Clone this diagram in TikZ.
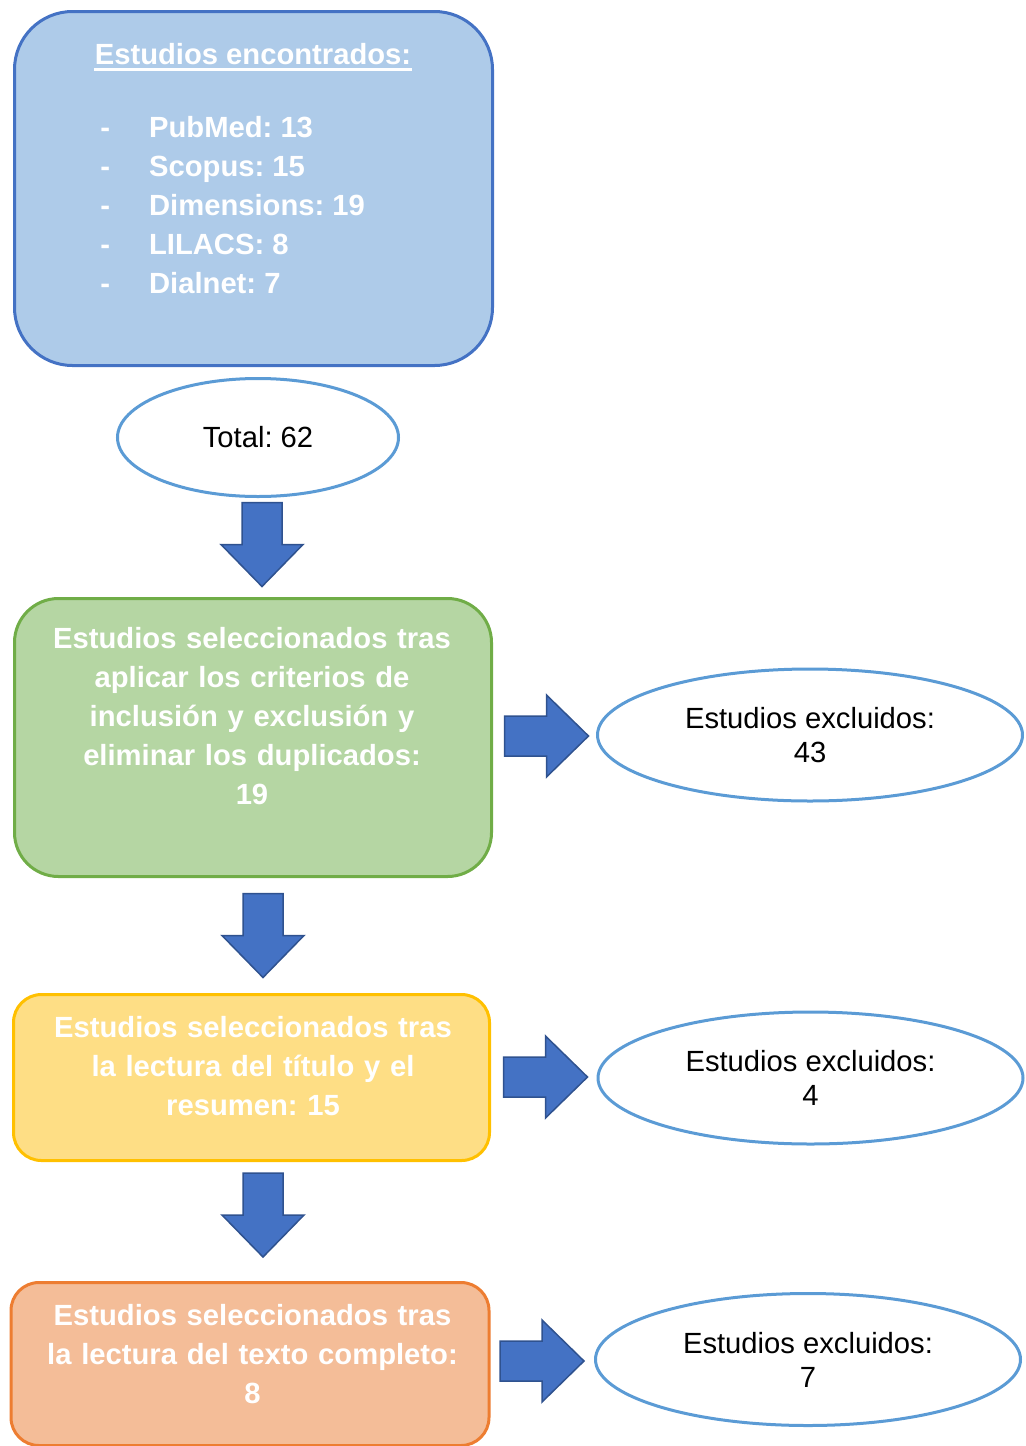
\documentclass[tikz,border=0pt]{standalone}
\usepackage{fontspec}
\setmainfont{Liberation Sans}
\usetikzlibrary{shapes.geometric}
\definecolor{foundFill}{HTML}{AECBE9}
\definecolor{foundLine}{HTML}{4472C4}
\definecolor{greenFill}{HTML}{B5D6A3}
\definecolor{greenLine}{HTML}{70AD47}
\definecolor{yellowFill}{HTML}{FEDE85}
\definecolor{yellowLine}{HTML}{FFC000}
\definecolor{orangeFill}{HTML}{F4BD98}
\definecolor{orangeLine}{HTML}{ED7D31}
\definecolor{ellipseLine}{HTML}{5B9BD5}
\definecolor{arrowFill}{HTML}{4472C4}
\definecolor{arrowLine}{HTML}{2F528F}

\begin{document}
\frenchspacing
\begin{tikzpicture}
[x=0.5pt,y=-0.5pt,
  boxDecorate/.style={shape=rectangle,draw,line width=1.5pt,inner sep=0pt},
  ellipseDecorate/.style={shape=ellipse,draw=ellipseLine,line width=1.5pt,fill=white,inner sep=0pt,
    minimum width=212.5pt,minimum height=66pt,align=center,font=\fontsize{14.6}{17}\selectfont},
  boxFont/.style={text=white,font=\bfseries\fontsize{14.6}{19.5}\selectfont,inner sep=0pt},
  boxText/.style={boxFont,align=center,text width=236pt,anchor=base},
  arrowDecorate/.style={fill=arrowFill,draw=arrowLine,line width=0.75pt,line join=miter}]
\useasboundingbox (0,0) rectangle (1025,1446);
%% boxes
\node (found) at (253.5,188.5) [boxDecorate,draw=foundLine,fill=foundFill,
  minimum width=239pt,minimum height=177pt,rounded corners=29pt] {};
\node (sel1) at (253,737.5) [boxDecorate,draw=greenLine,fill=greenFill,
  minimum width=238.5pt,minimum height=139pt,rounded corners=22pt] {};
\node (sel2) at (251.5,1077.5) [boxDecorate,draw=yellowLine,fill=yellowFill,
  minimum width=238pt,minimum height=83pt,rounded corners=14pt] {};
\node (sel3) at (250,1364) [boxDecorate,draw=orangeLine,fill=orangeFill,
  minimum width=239pt,minimum height=81.5pt,rounded corners=14pt] {};
%% texts in the boxes
\node (foundTitle) at (253,64) [boxFont,anchor=base] {Estudios encontrados:};
\draw[white,line width=1.2pt] ([yshift=-2.8pt]foundTitle.base west) -- ([yshift=-2.8pt]foundTitle.base east);
\foreach \i/\db in {0/PubMed: 13,1/Scopus: 15,2/Dimensions: 19,3/LILACS: 8,4/Dialnet: 7}
{
  \node (db\i) at (100,137+39*\i) [boxFont,anchor=base west] {-\hspace{19.5pt}\db};
}
\node (sel1Text) at (252,648) [boxText] {Estudios seleccionados tras\\aplicar los criterios de\\inclusión y exclusión y\\eliminar los duplicados:\\19};
\node (sel2Text) at (253,1037) [boxText] {Estudios seleccionados tras\\la lectura del título y el\\resumen: 15};
\node (sel3Text) at (252.5,1325) [boxText] {Estudios seleccionados tras\\la lectura del texto completo:\\8};
%% ellipses
\node (total) at (258,437.5) [ellipseDecorate,minimum width=140.5pt,minimum height=59pt] {Total: 62};
\node (excl1) at (810,735) [ellipseDecorate] {Estudios excluidos:\\43};
\node (excl2) at (810.5,1078) [ellipseDecorate] {Estudios excluidos:\\4};
\node (excl3) at (808,1359.5) [ellipseDecorate] {Estudios excluidos:\\7};
%% block arrows
\foreach \ax/\ay/\rot in {262/544.5/-90, 263/935.5/-90, 263/1215/-90,
  546.5/736/0, 545.5/1077/0, 542/1361/0}
{
  \draw[arrowDecorate,shift={(\ax,\ay)},rotate=\rot]
    (-42,-20) -- (0,-20) -- (0,-41) -- (42,0) -- (0,41) -- (0,20) -- (-42,20) -- cycle;
}
\end{tikzpicture}
\end{document}
